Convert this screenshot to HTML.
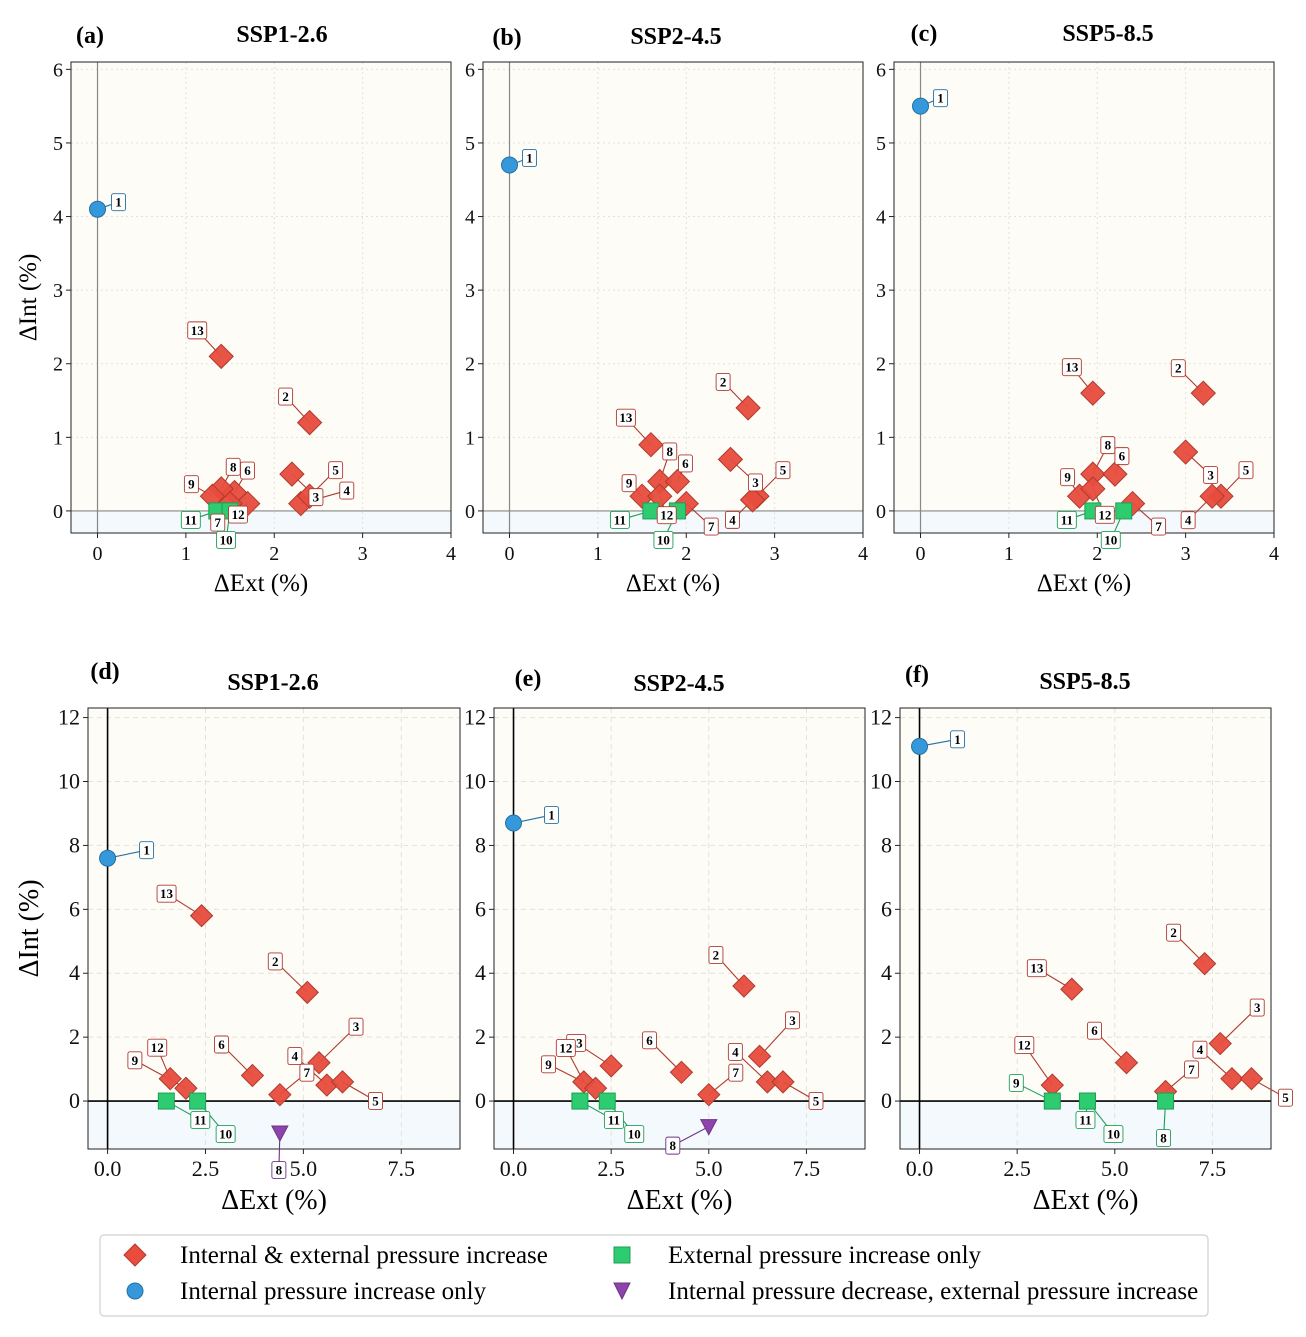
<!DOCTYPE html>
<html><head><meta charset="utf-8">
<style>
body{margin:0;background:#fff;}
svg{display:block;font-family:"Liberation Serif",serif;}
</style></head>
<body>
<svg id="c" width="1306" height="1337" viewBox="0 0 1306 1337"></svg>
<script>
// ---------- data ----------
const idsA = [1,13,2,3,4,5,6,8,9,7,12,11,10];
const extA = [0,1.4,2.4,2.2,2.3,2.4,1.55,1.4,1.3,1.7,1.5,1.35,1.5];
const intA = [4.1,2.1,1.2,0.5,0.1,0.2,0.25,0.3,0.2,0.1,0.1,0,0];
const catA = ["b","r","r","r","r","r","r","r","r","r","r","g","g"];

const idsB = [1,13,2,8,6,9,12,7,3,5,4,11,10];
const extB = [0,1.6,2.7,1.7,1.9,1.5,1.7,2.0,2.5,2.8,2.75,1.6,1.9];
const intB = [4.7,0.9,1.4,0.4,0.4,0.2,0.2,0.1,0.7,0.2,0.15,0,0];
const catB = ["b","r","r","r","r","r","r","r","r","r","r","g","g"];

const idsC = [1,13,2,8,6,9,12,3,5,4,7,11,10];
const extC = [0,1.95,3.2,1.95,2.2,1.8,1.95,3.0,3.4,3.3,2.4,1.95,2.3];
const intC = [5.5,1.6,1.6,0.5,0.5,0.2,0.3,0.8,0.2,0.2,0.1,0,0];
const catC = ["b","r","r","r","r","r","r","r","r","r","r","g","g"];

const idsD = [1,13,2,3,6,12,9,4,7,5,11,10,8];
const extD = [0,2.4,5.1,5.4,3.7,1.6,2.0,5.6,4.4,6.0,1.5,2.3,4.4];
const intD = [7.6,5.8,3.4,1.2,0.8,0.7,0.4,0.5,0.2,0.6,0,0,-1.0];
const catD = ["b","r","r","r","r","r","r","r","r","r","g","g","p"];

const idsE = [1,2,13,12,9,6,3,4,7,5,11,10,8];
const extE = [0,5.9,2.5,1.8,2.1,4.3,6.3,6.5,5.0,6.9,1.7,2.4,5.0];
const intE = [8.7,3.6,1.1,0.6,0.4,0.9,1.4,0.6,0.2,0.6,0,0,-0.8];
const catE = ["b","r","r","r","r","r","r","r","r","r","g","g","p"];

const idsF = [1,13,2,3,12,6,4,7,5,9,11,10,8];
const extF = [0,3.9,7.3,7.7,3.4,5.3,8.0,6.3,8.5,3.4,4.3,4.3,6.3];
const intF = [11.1,3.5,4.3,1.8,0.5,1.2,0.7,0.3,0.7,0,0,0,0];
const catF = ["b","r","r","r","r","r","r","r","r","g","g","g","g"];

const ticksTopX = [0,1,2,3,4];
const ticksTopY = [0,1,2,3,4,5,6];
const ticksBotX = [0,2.5,5,7.5];
const ticksBotXLabels = ["0.0","2.5","5.0","7.5"];
const ticksBotY = [0,2,4,6,8,10,12];

// label offsets (layout, px)
const offA=[[21,-7],[-24,-26],[-24,-26],[24,23],[46,-13],[26,-26],[13,-22],[12,-22],[-21,-12],[-30,19],[8,11],[-26,9],[-4,29]];
const offB=[[20,-7],[-25,-27],[-25,-26],[10,-30],[8,-18],[-13,-13],[7,19],[25,23],[25,23],[26,-26],[-20,20],[-31,9],[-14,29]];
const offC=[[20,-8],[-21,-26],[-25,-25],[15,-29],[7,-18],[-12,-19],[12,26],[25,23],[25,-26],[-24,24],[26,23],[-26,9],[-13,29]];
const offD=[[39,-8],[-35,-22],[-32,-31],[37,-36],[-31,-31],[-13,-31],[-51,-28],[-32,-29],[27,-22],[33,19],[34,19],[28,33],[-1,37]];
const offE=[[38,-8],[-28,-31],[-35,-23],[-18,-34],[-47,-24],[-32,-32],[33,-36],[-32,-30],[27,-22],[33,19],[34,19],[27,33],[-36,19]];
const offF=[[38,-7],[-35,-21],[-31,-31],[37,-36],[-28,-40],[-32,-32],[-32,-29],[26,-22],[34,19],[-36,-18],[-2,19],[26,33],[-2,37]];

const NS="http://www.w3.org/2000/svg";
const svg=document.getElementById('c');
function el(tag,attrs,parent){const e=document.createElementNS(NS,tag);for(const k in attrs)e.setAttribute(k,attrs[k]);(parent||svg).appendChild(e);return e;}
function txt(s,attrs,parent){const t=el('text',attrs,parent);t.textContent=s;return t;}

const COL={r:{f:"#e74c3c",s:"#b03a2e"},b:{f:"#3498db",s:"#2471a3"},g:{f:"#2ecc71",s:"#1e9e55"},p:{f:"#8e44ad",s:"#6c3483"}};

function panel(cfg){
  const g=el('g',{});
  
  
  const sx=v=>cfg.x0+(v-cfg.xmin)/(cfg.xmax-cfg.xmin)*(cfg.x1-cfg.x0);
  const sy=v=>cfg.y1-(v-cfg.ymin)/(cfg.ymax-cfg.ymin)*(cfg.y1-cfg.y0);
  const bg=el('rect',{x:cfg.x0,y:cfg.y0,width:cfg.x1-cfg.x0,height:sy(0)-cfg.y0,fill:"#fdfcf7"},g);
  
  
  const neg=el('rect',{x:cfg.x0,y:sy(0),width:cfg.x1-cfg.x0,height:cfg.y1-sy(0),fill:"#f3f9fc"},g);
  
  
  const dash=cfg.isTop?"2,3":"5,4";
  const tfs=cfg.isTop?20:22;
  cfg.tx.forEach((t,i)=>{
    const gl=el('line',{x1:sx(t),x2:sx(t),y1:cfg.y0,y2:cfg.y1,stroke:"#e2e2dc","stroke-width":1,"stroke-dasharray":dash},g);
    
    
    const tl=txt(cfg.txl[i],{x:sx(t),y:cfg.y1+27,"font-size":tfs,"text-anchor":"middle",fill:"#111"},g);
    
    
    el('line',{x1:sx(t),x2:sx(t),y1:cfg.y1,y2:cfg.y1+5,stroke:"#222"},g);
  });
  cfg.ty.forEach(t=>{
    const gl=el('line',{x1:cfg.x0,x2:cfg.x1,y1:sy(t),y2:sy(t),stroke:"#e2e2dc","stroke-width":1,"stroke-dasharray":dash},g);
    
    
    const tl=txt(String(t),{x:cfg.x0-8,y:sy(t)+7,"font-size":tfs,"text-anchor":"end",fill:"#111"},g);
    
    
    el('line',{x1:cfg.x0-5,x2:cfg.x0,y1:sy(t),y2:sy(t),stroke:"#222"},g);
  });
  const zc=cfg.isTop?"#888":"#000";
  const zx=el('line',{x1:cfg.x0,x2:cfg.x1,y1:sy(0),y2:sy(0),stroke:zc,"stroke-width":cfg.isTop?1.2:1.6},g);
  
  
  const zy=el('line',{x1:sx(0),x2:sx(0),y1:cfg.y0,y2:cfg.y1,stroke:zc,"stroke-width":cfg.isTop?1.2:1.6},g);
  
  
  const fr=el('rect',{x:cfg.x0,y:cfg.y0,width:cfg.x1-cfg.x0,height:cfg.y1-cfg.y0,fill:"none",stroke:"#222","stroke-width":1},g);
  
  
  const pl=txt("("+cfg.letter+")",{x:cfg.lx,y:cfg.ly,"font-size":24,"font-weight":"bold","text-anchor":"middle"},g);
  
  
  const ti=txt(cfg.title,{x:cfg.tix,y:cfg.tiy,"font-size":24,"font-weight":"bold","text-anchor":"middle"},g);
  
  
  const afs=cfg.isTop?25:28;
  const xl=txt("\u0394Ext (%)",{x:(cfg.x0+cfg.x1)/2,y:cfg.y1+cfg.xlo,"font-size":afs,"text-anchor":"middle"},g);
  
  
  if(cfg.ylab){
    const cy=(cfg.y0+cfg.y1)/2;
    const yl=txt("\u0394Int (%)",{x:cfg.ylx,y:cy,"font-size":afs,"text-anchor":"middle",transform:`rotate(-90 ${cfg.ylx} ${cy})`},g);
    
    
  }
  const s=cfg.isTop?12:11;
  const lab=[];
  cfg.ids.forEach((id,i)=>{
    const px=sx(cfg.ex[i]),py=sy(cfg.in[i]);const c=COL[cfg.cat[i]];
    const lx=px+cfg.off[i][0],ly=py+cfg.off[i][1];
    const ln=el('line',{x1:lx,y1:ly,x2:px,y2:py,stroke:c.s,"stroke-width":1.1},g);
    
    
    lab.push([id,lx,ly,c]);
  });
  cfg.ids.forEach((id,i)=>{
    const px=sx(cfg.ex[i]),py=sy(cfg.in[i]);const k=cfg.cat[i];const c=COL[k];let m;
    if(k==="r") m=el('polygon',{points:`${px},${py-s} ${px+s},${py} ${px},${py+s} ${px-s},${py}`,fill:c.f,stroke:c.s,"stroke-width":1,"fill-opacity":0.95},g);
    else if(k==="b") m=el('circle',{cx:px,cy:py,r:8,fill:c.f,stroke:c.s,"stroke-width":1},g);
    else if(k==="g") m=el('rect',{x:px-8,y:py-8,width:16,height:16,fill:c.f,stroke:c.s,"stroke-width":1},g);
    else m=el('polygon',{points:`${px-8},${py-7} ${px+8},${py-7} ${px},${py+8}`,fill:c.f,stroke:c.s,"stroke-width":1},g);
    
    
  });
  lab.forEach(([id,lx,ly,c])=>{
    const w=String(id).length>1?19:14;
    const b=el('rect',{x:lx-w/2,y:ly-8.5,width:w,height:17,rx:2,fill:"#fff",stroke:c.s,"stroke-width":0.9},g);
    
    
    const t=txt(String(id),{x:lx,y:ly+4.5,"font-size":13,"font-weight":"bold","text-anchor":"middle"},g);
    
    
  });
}
const topCfg={isTop:true,xmin:-0.3,xmax:4,ymin:-0.3,ymax:6.1,y0:62,y1:533,tx:ticksTopX,txl:ticksTopX.map(String),ty:ticksTopY,xlo:58,ylx:36};
const botCfg={isTop:false,xmin:-0.5,xmax:9,ymin:-1.5,ymax:12.3,y0:708,y1:1149,tx:ticksBotX,txl:ticksBotXLabels,ty:ticksBotY,xlo:60,ylx:38};
panel(Object.assign({},topCfg,{letter:"a",title:"SSP1-2.6",x0:71,x1:451,lx:90,ly:43,tix:282,tiy:42,ylab:true,ids:idsA,ex:extA,in:intA,cat:catA,off:offA}));
panel(Object.assign({},topCfg,{letter:"b",title:"SSP2-4.5",x0:483,x1:863,lx:507,ly:45,tix:676,tiy:44,ylab:false,ids:idsB,ex:extB,in:intB,cat:catB,off:offB}));
panel(Object.assign({},topCfg,{letter:"c",title:"SSP5-8.5",x0:894,x1:1274,lx:924,ly:41,tix:1108,tiy:41,ylab:false,ids:idsC,ex:extC,in:intC,cat:catC,off:offC}));
panel(Object.assign({},botCfg,{letter:"d",title:"SSP1-2.6",x0:88,x1:460,lx:105,ly:679,tix:273,tiy:690,ylab:true,ids:idsD,ex:extD,in:intD,cat:catD,off:offD}));
panel(Object.assign({},botCfg,{letter:"e",title:"SSP2-4.5",x0:494,x1:865,lx:528,ly:686,tix:679,tiy:691,ylab:false,ids:idsE,ex:extE,in:intE,cat:catE,off:offE}));
panel(Object.assign({},botCfg,{letter:"f",title:"SSP5-8.5",x0:900,x1:1271,lx:917,ly:682,tix:1085,tiy:689,ylab:false,ids:idsF,ex:extF,in:intF,cat:catF,off:offF}));

// legend
const lg=el('g',{});


el('rect',{x:100,y:1235,width:1108,height:81,rx:4,fill:"#fff",stroke:"#d0d0d0","stroke-width":1.2},lg);
const e1=el('polygon',{points:"135,1244 146,1255 135,1266 124,1255",fill:COL.r.f,stroke:COL.r.s},lg);


const e2=el('circle',{cx:135,cy:1291,r:8,fill:COL.b.f,stroke:COL.b.s},lg);


const e3=el('rect',{x:614,y:1247,width:16,height:16,fill:COL.g.f,stroke:COL.g.s},lg);


const e4=el('polygon',{points:"614,1283 630,1283 622,1299",fill:COL.p.f,stroke:COL.p.s},lg);


const t1=txt("Internal & external pressure increase",{x:180,y:1263,"font-size":25},lg);


const t2=txt("Internal pressure increase only",{x:180,y:1299,"font-size":25},lg);


const t3=txt("External pressure increase only",{x:668,y:1263,"font-size":25},lg);


const t4=txt("Internal pressure decrease, external pressure increase",{x:668,y:1299,"font-size":25},lg);


</script>
</body></html>
